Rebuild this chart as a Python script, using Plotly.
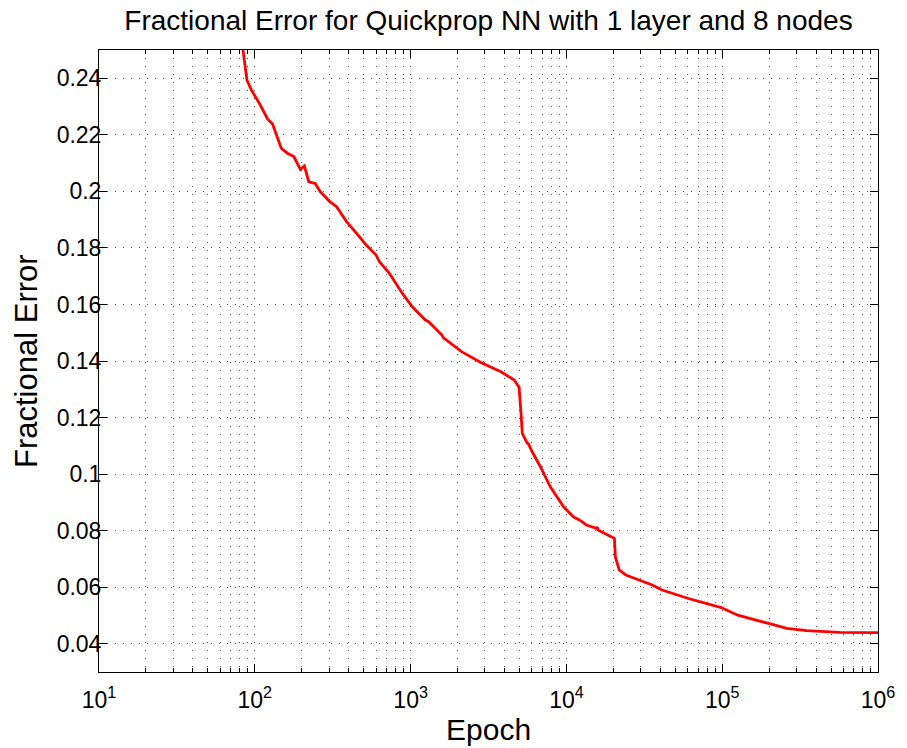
import plotly.graph_objects as go

epochs = [80, 84, 89, 95, 107, 121, 130, 148, 162, 178, 196, 208, 222, 244, 263,
          304, 335, 388, 449, 519, 600, 631, 730, 886, 1025, 1245, 1306, 1588, 1626,
          2124, 2843, 3802, 4623, 4970, 5094, 5213, 5610, 5700, 6030, 6810, 7880,
          9570, 11070, 12200, 13430, 15560, 15800, 15950, 19830, 20330, 20600, 21830,
          24080, 29240, 35530, 41110, 60650, 98600, 119700, 125700, 204000, 260000,
          348000, 566000, 1000000]
errors = [0.262, 0.250, 0.2394, 0.2359, 0.2311, 0.2255, 0.2238, 0.2152, 0.2135, 0.2123,
          0.2078, 0.2090, 0.2034, 0.2028, 0.1999, 0.1963, 0.1946, 0.1893, 0.1852, 0.1810,
          0.1775, 0.1751, 0.1710, 0.1639, 0.1592, 0.1545, 0.1539, 0.1492, 0.1482, 0.1433,
          0.1394, 0.1362, 0.1333, 0.1307, 0.1227, 0.1144, 0.1109, 0.1108, 0.1079, 0.1026,
          0.0955, 0.0885, 0.0849, 0.0837, 0.0820, 0.0808, 0.0813, 0.0802, 0.0776, 0.0773,
          0.0708, 0.0661, 0.0643, 0.0625, 0.0608, 0.0590, 0.0560, 0.0528, 0.0507, 0.0501,
          0.0470, 0.0454, 0.0446, 0.0440, 0.0439]

x_tickvals = [10, 100, 1000, 10000, 100000, 1000000]
x_ticktext = ["10<sup>1</sup>", "10<sup>2</sup>", "10<sup>3</sup>",
              "10<sup>4</sup>", "10<sup>5</sup>", "10<sup>6</sup>"]
x_minorvals = [m * d for d in [10, 100, 1000, 10000, 100000] for m in range(2, 10)]
y_tickvals = [0.04, 0.06, 0.08, 0.10, 0.12, 0.14, 0.16, 0.18, 0.20, 0.22, 0.24]
y_ticktext = ["0.04", "0.06", "0.08", "0.1", "0.12", "0.14", "0.16", "0.18", "0.2", "0.22", "0.24"]

title_text = "Fractional Error for Quickprop NN with 1 layer and 8 nodes"
x_label = "Epoch"
y_label = "Fractional Error"

FONT = "Liberation Sans, Arial, Helvetica, sans-serif"
GRID = "#555555"

fig = go.Figure()
fig.add_trace(go.Scatter(x=epochs, y=errors, mode="lines",
                         line=dict(color="#ff0000", width=2.8), showlegend=False))

fig.update_layout(
    width=907, height=748,
    margin=dict(l=99, r=18, t=50, b=76),
    paper_bgcolor="white", plot_bgcolor="white",
    font=dict(family=FONT, color="black", size=23),
    title=dict(text=title_text, x=0.5, xref="paper", xanchor="center",
               y=1 - 20 / 748, yref="container", yanchor="middle",
               font=dict(size=28, family=FONT, color="black")),
    annotations=[
        dict(text=x_label, xref="paper", yref="paper", x=0.5, y=0, yshift=-57,
             xanchor="center", yanchor="middle", showarrow=False,
             font=dict(size=30, family=FONT, color="black")),
        dict(text=y_label, xref="paper", yref="paper", x=0, xshift=-73, y=0.5,
             xanchor="center", yanchor="middle", textangle=-90, showarrow=False,
             font=dict(size=31, family=FONT, color="black")),
    ],
)

fig.update_xaxes(
    type="log", range=[1, 6],
    tickmode="array", tickvals=x_tickvals, ticktext=x_ticktext,
    ticks="inside", ticklen=8, tickwidth=1, tickcolor="black",
    showline=True, linecolor="black", linewidth=1, mirror="ticks",
    showgrid=True, gridcolor=GRID, gridwidth=1, griddash="1px,7px",
    zeroline=False, ticklabelstandoff=7,
    tickfont=dict(size=23, family=FONT, color="black"),
    minor=dict(tickmode="array", tickvals=x_minorvals, ticks="inside", ticklen=4,
               tickcolor="black", showgrid=True, gridcolor=GRID, gridwidth=1,
               griddash="1px,7px"),
)
fig.update_yaxes(
    range=[0.03, 0.25],
    tickmode="array", tickvals=y_tickvals, ticktext=y_ticktext,
    ticks="inside", ticklen=8, tickwidth=1, tickcolor="black",
    showline=True, linecolor="black", linewidth=1, mirror="ticks",
    showgrid=True, gridcolor=GRID, gridwidth=1, griddash="1px,7px",
    zeroline=False, ticklabelstandoff=-8,
    tickfont=dict(size=23, family=FONT, color="black"),
)

# remove the default 8px page margin so the figure fills the window exactly
fig.write_html("out.html",
               config={"displayModeBar": False},
               post_script="document.body.style.margin='0px';document.body.style.overflow='hidden';")
